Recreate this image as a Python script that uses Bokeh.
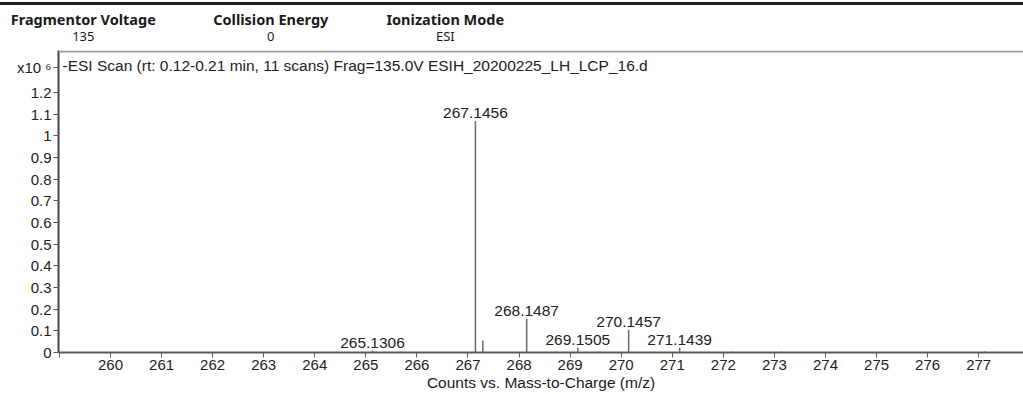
from bokeh.plotting import figure
from bokeh.layouts import column
from bokeh.models import (Range1d, FixedTicker, NumeralTickFormatter, Label, Span,
                          ColumnDataSource, Div)
from bokeh.core.properties import value
from bokeh.embed import file_html
from bokeh.resources import INLINE

# ---------------- data ----------------
header_titles = ["Fragmentor Voltage", "Collision Energy", "Ionization Mode"]
header_values = ["135", "0", "ESI"]

# peaks: m/z and intensity (x10^6 counts)
peak_mz = [265.1306, 266.11, 267.1456, 267.29, 268.1487, 269.1505, 270.1457,
           271.1439, 272.15, 273.14, 276.10, 277.12]
peak_int = [0.008, 0.004, 1.069, 0.055, 0.155, 0.022, 0.105,
            0.022, 0.005, 0.005, 0.004, 0.005]
labeled_mz = [265.1306, 267.1456, 268.1487, 269.1505, 270.1457, 271.1439]

x_ticks = [260, 261, 262, 263, 264, 265, 266, 267, 268, 269, 270, 271, 272,
           273, 274, 275, 276, 277]
y_ticks = [0, 0.1, 0.2, 0.3, 0.4, 0.5, 0.6, 0.7, 0.8, 0.9, 1.0, 1.1, 1.2]

subtitle = "-ESI Scan (rt: 0.12-0.21 min, 11 scans) Frag=135.0V ESIH_20200225_LH_LCP_16.d"
x_title = "Counts vs. Mass-to-Charge (m/z)"
scale_text = "x10 \u2076"

FONT = "Liberation Sans"
FS = "15.5px"
TXT = "#222222"

W = 1023
HEAD_H = 44

# ---------------- header (HTML block above the plot) ----------------
head_x = [83.3, 270.8, 445.3]
parts = ['<div style="position:relative;width:%dpx;height:%dpx;overflow:hidden;'
         'background:#ffffff;margin:0;padding:0;">' % (W, HEAD_H),
         '<div style="position:absolute;left:0;top:2px;width:%dpx;height:3px;'
         'background:#1e1e1e;"></div>' % W]
for cx, t, v in zip(head_x, header_titles, header_values):
    parts.append('<div style="position:absolute;left:%.1fpx;top:11.6px;width:220px;'
                 'text-align:center;font-family:\'Noto Sans\';font-weight:bold;'
                 'font-size:14.5px;line-height:1;color:#1a1a1a;white-space:nowrap;">'
                 '%s</div>' % (cx - 110, t))
    parts.append('<div style="position:absolute;left:%.1fpx;top:30.2px;width:220px;'
                 'text-align:center;font-family:\'Noto Sans\';font-size:13px;'
                 'line-height:1;color:#1a1a1a;white-space:nowrap;">%s</div>'
                 % (cx - 110, v))
parts.append('</div>')
header = Div(text="".join(parts), width=W, height=HEAD_H, margin=0)

# ---------------- spectrum ----------------
X0, X1 = 258.982, 277.877
Y0, Y1 = 0, 1.394
FL, FT = 58, 6             # frame left / top inside the figure (px)
FRAME_W, FRAME_H = 965, 302
PX_PER_X = FRAME_W / (X1 - X0)
PX_PER_Y = FRAME_H / (Y1 - Y0)

p = figure(width=W, height=350, x_range=Range1d(X0, X1),
           y_range=Range1d(Y0, Y1), output_backend="svg", toolbar_location=None,
           min_border_left=FL, min_border_right=0, min_border_top=FT,
           min_border_bottom=42)
p.grid.visible = False
p.outline_line_color = None
p.background_fill_color = "white"
p.border_fill_color = "white"

p.segment(x0=peak_mz, y0=[0] * len(peak_mz), x1=peak_mz, y1=peak_int,
          line_width=1.5, line_color="#6a6a6a")

lab_int = [peak_int[peak_mz.index(m)] for m in labeled_mz]
lab_src = ColumnDataSource(dict(x=labeled_mz, y=lab_int,
                                t=[f"{m:.4f}" for m in labeled_mz]))
p.text(x="x", y="y", text="t", source=lab_src, text_align="center",
       text_baseline="bottom", y_offset=-3, text_font=value(FONT),
       text_font_size=FS, text_color=TXT)

# frame top line
p.add_layout(Span(location=1.389, dimension="width", line_color="#999999",
                  line_width=2))

# subtitle inside the frame
p.add_layout(Label(x=X0 + 4 / PX_PER_X, y=Y1 - 15 / PX_PER_Y, text=subtitle,
                   text_font=FONT, text_font_size=FS, text_color=TXT,
                   text_baseline="alphabetic"))

# axes
xa = p.xaxis[0]
xa.ticker = FixedTicker(ticks=[259] + x_ticks)
xa.major_label_overrides = {259: ""}
xa.major_label_standoff = 2
xa.major_label_text_font = FONT
xa.major_label_text_font_size = "15px"
xa.major_label_text_color = TXT
xa.axis_label = x_title
xa.axis_label_standoff = 1
xa.axis_label_text_font = FONT
xa.axis_label_text_font_style = "normal"
xa.axis_label_text_font_size = FS
xa.axis_label_text_color = TXT
xa.axis_line_color = "#5c5c5c"
xa.axis_line_width = 2
xa.major_tick_in = 0
xa.major_tick_out = 5
xa.major_tick_line_color = "#5c5c5c"
xa.minor_tick_in = 0
xa.minor_tick_out = 0

# the "x10^6" scale factor sits in the tick-label column above 1.2
scale_pos = round((FRAME_H + FT - 23) / PX_PER_Y, 4)
ya = p.yaxis[0]
ya.ticker = FixedTicker(ticks=y_ticks + [scale_pos])
ya.formatter = NumeralTickFormatter(format="0.[0]")
ya.major_label_overrides = {scale_pos: scale_text}
ya.major_label_standoff = 2
ya.major_label_text_font = FONT
ya.major_label_text_font_size = "15px"
ya.major_label_text_color = TXT
ya.axis_line_color = "#444444"
ya.axis_line_width = 2
ya.major_tick_in = 0
ya.major_tick_out = 5
ya.major_tick_line_color = "#555555"
ya.minor_tick_in = 0
ya.minor_tick_out = 0

layout = column(header, p, spacing=0)
open("out.html", "w").write(file_html(layout, INLINE))
